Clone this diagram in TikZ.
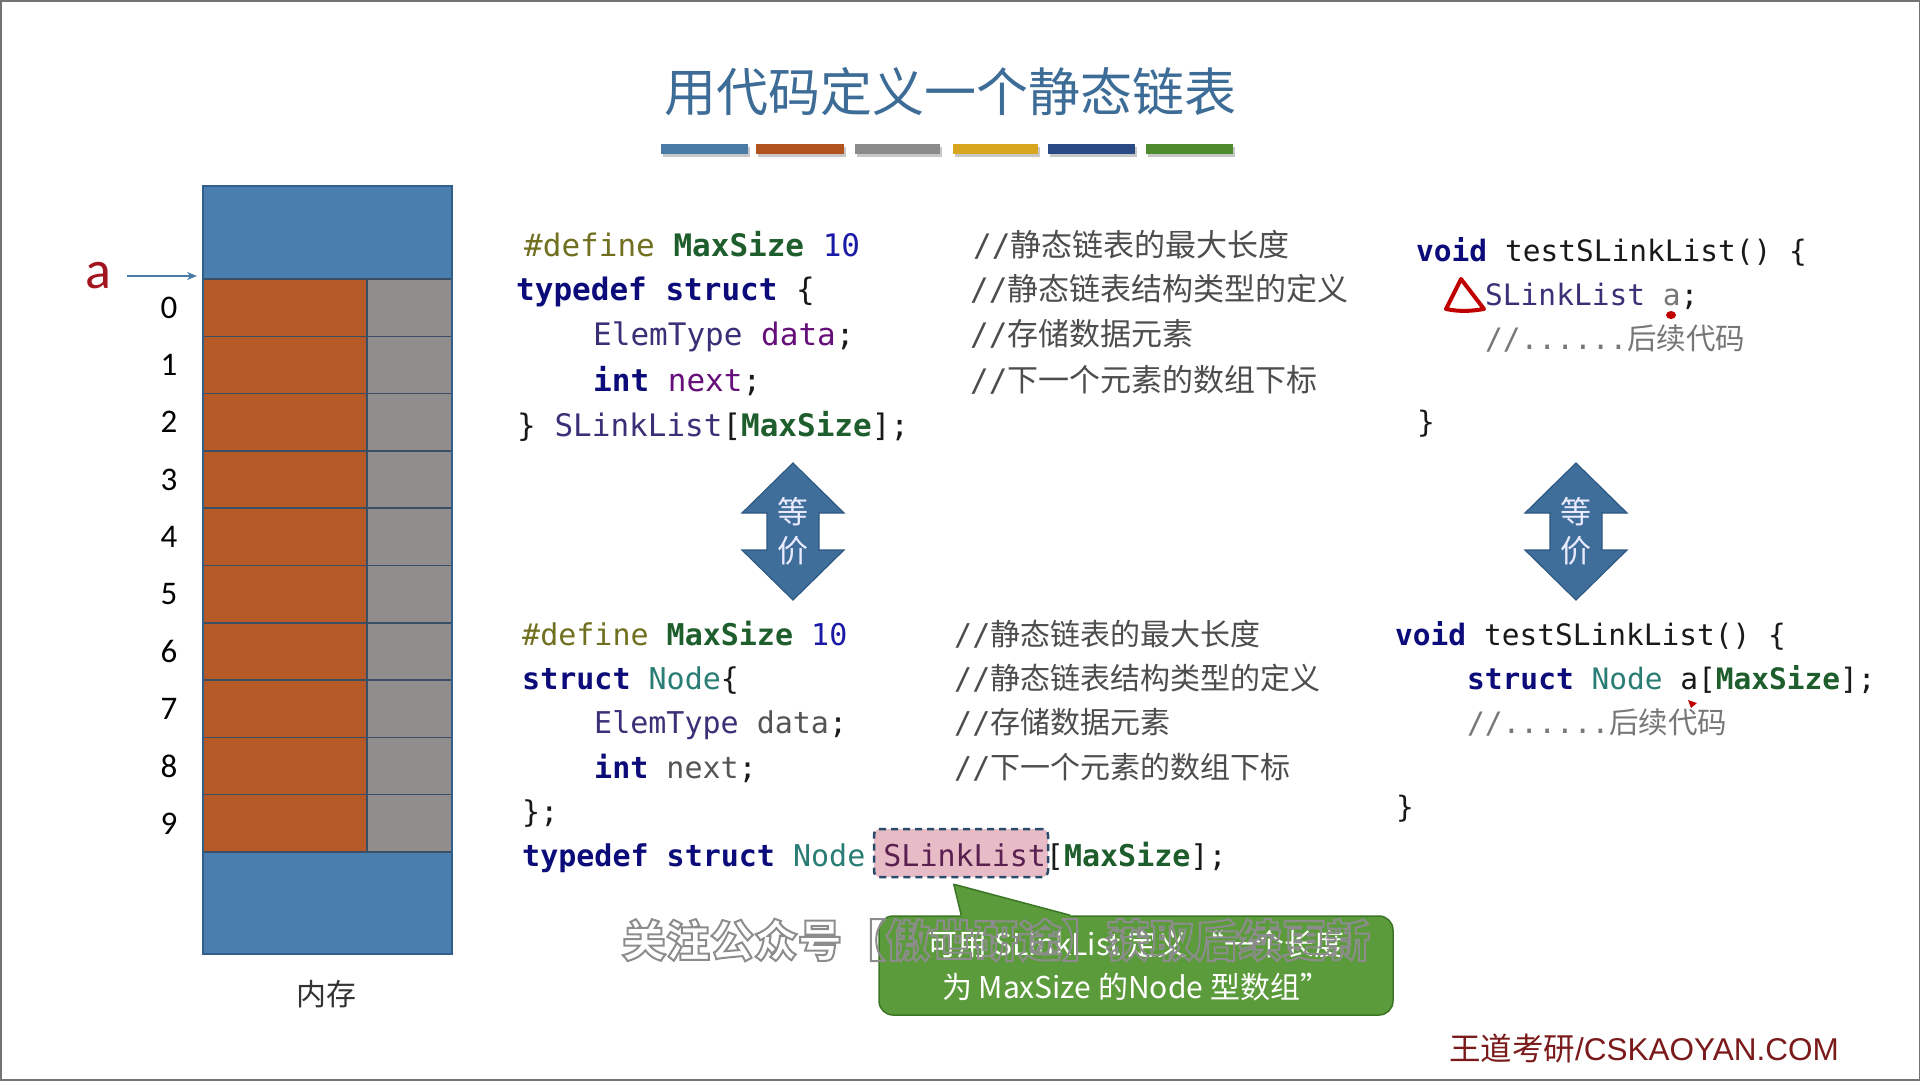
\documentclass[tikz,border=0pt]{standalone}
\usepackage{fontspec}
\usetikzlibrary{calc,arrows.meta}
\newfontfamily\cjk{Noto Sans CJK SC}
\newfontfamily\mono{DejaVu Sans Mono}
\newfontfamily\calfont{Carlito}
\newfontfamily\arl{Liberation Sans}

% palette
\definecolor{ctitle}{HTML}{3D6C97}
\definecolor{barA}{HTML}{4A7AA6}
\definecolor{barB}{HTML}{B0531F}
\definecolor{barC}{HTML}{8A8A8A}
\definecolor{barD}{HTML}{D7A51E}
\definecolor{barE}{HTML}{2A4A86}
\definecolor{barF}{HTML}{4E8B2F}
\definecolor{memblue}{HTML}{4A7EAE}
\definecolor{memedge}{HTML}{2F5F8A}
\definecolor{memorange}{HTML}{B55A26}
\definecolor{memgray}{HTML}{918D8D}
\definecolor{memgrid}{HTML}{3A4F66}
\definecolor{ared}{HTML}{A3151E}
\definecolor{ptr}{HTML}{4A7AA6}
\definecolor{arrfill}{HTML}{3F6E9B}
\definecolor{arrdraw}{HTML}{2E5A82}
\definecolor{ckw}{HTML}{0B0B7A}
\definecolor{cms}{HTML}{1E5E2C}
\definecolor{cnum}{HTML}{1A1AA6}
\definecolor{cdef}{HTML}{707020}
\definecolor{cty}{HTML}{3C2F78}
\definecolor{cfl}{HTML}{660E7A}
\definecolor{cnd}{HTML}{2A7D74}
\definecolor{cgr}{HTML}{555555}
\definecolor{ccm}{HTML}{4D4D4D}
\definecolor{clight}{HTML}{777777}
\definecolor{chl}{HTML}{5A2050}
\definecolor{hlfill}{HTML}{E8BCC6}
\definecolor{hledge}{HTML}{2B4B6B}
\definecolor{notefill}{HTML}{5C9B3C}
\definecolor{noteedge}{HTML}{3D7526}
\definecolor{penred}{HTML}{C00000}
\definecolor{cfoot}{HTML}{7B1A1A}

% code colouring
\newcommand\CKw[1]{{\bfseries\color{ckw}#1}}
\newcommand\CMs[1]{{\bfseries\color{cms}#1}}
\newcommand\CNum[1]{{\color{cnum}#1}}
\newcommand\CDef[1]{{\color{cdef}#1}}
\newcommand\CTy[1]{{\color{cty}#1}}
\newcommand\CFl[1]{{\color{cfl}#1}}
\newcommand\CNd[1]{{\color{cnd}#1}}
\newcommand\CCm[2]{{\mono //#1}{\cjk #2}}
\newcommand\hollowtext[1]{\special{pdf:literal direct 1 Tr 2 w}#1\special{pdf:literal direct 0 Tr}}

\tikzset{
  codeA/.style={anchor=base west, inner sep=0pt, text=black!90, font=\mono\fontsize{31}{36}\selectfont},
  codeB/.style={anchor=base west, inner sep=0pt, text=black!90, font=\mono\fontsize{30}{36}\selectfont},
  codeC/.style={anchor=base west, inner sep=0pt, text=black!90, font=\mono\fontsize{29.5}{36}\selectfont},
  cmtA/.style={anchor=base west, inner sep=0pt, text=ccm, font=\fontsize{31}{36}\selectfont},
  cmtB/.style={anchor=base west, inner sep=0pt, text=ccm, font=\fontsize{30}{36}\selectfont},
  cmtC/.style={anchor=base west, inner sep=0pt, text=clight, font=\fontsize{29.5}{36}\selectfont},
  idx/.style={inner sep=0pt, text=black, font=\calfont\fontsize{33}{36}\selectfont},
  eqtext/.style={inner sep=0pt, text=white!92!blue, font=\cjk\fontsize{31}{32}\selectfont},
  hlbox/.style={fill=hlfill, draw=hledge, line width=2.5pt, dash pattern=on 7pt off 5pt,
    rounded corners=6pt, minimum width=174pt, minimum height=48pt, inner sep=0pt},
  note/.style={fill=notefill, draw=noteedge, line width=1.5pt, rounded corners=14pt,
    minimum width=514pt, minimum height=99pt, align=center, text=white,
    font=\cjk\fontsize{30}{43}\selectfont},
  eqarrow/.pic={
    \filldraw[fill=arrfill, draw=arrdraw, line width=1.2pt]
      (0,-68.5) -- (51,-18.5) -- (26,-18.5) -- (26,18.5) -- (51,18.5) -- (0,68.5)
      -- (-51,18.5) -- (-26,18.5) -- (-26,-18.5) -- (-51,-18.5) -- cycle;
    \node[eqtext] (-up) at (0,-19.5) {等};
    \node[eqtext] (-dn) at (0,19.5) {价};
  }
}

\begin{document}
\begin{tikzpicture}[x=1pt, y=-1pt]
\useasboundingbox (0,0) rectangle (1920,1080);
\fill[white] (0,0) rectangle (1920,1080);
\draw[black!55, line width=3pt] (0,0) rectangle (1920,1080);

% heading and colour strip
\node[text=ctitle, font=\cjk\fontsize{52}{56}\selectfont] (title) at (950,92) {用代码定义一个静态链表};
\foreach \xa/\xb/\cc in {661/748/barA, 756/844/barB, 855/940/barC, 953/1038/barD, 1048/1135/barE, 1146/1233/barF}{
  \fill[black!22] (\xa+2,147) rectangle (\xb+2,157);
  \fill[\cc] (\xa,144) rectangle (\xb,154);
}

% memory column
\fill[memblue] (203,186) rectangle (452,279);
\fill[memblue] (203,852) rectangle (452,954);
\foreach \i in {0,...,9}{
  \fill[memorange] (203,{279+57.3*\i}) rectangle (367,{279+57.3*(\i+1)});
  \fill[memgray] (367,{279+57.3*\i}) rectangle (452,{279+57.3*(\i+1)});
  \draw[memgrid, line width=1.5pt] (203,{279+57.3*\i}) -- (452,{279+57.3*\i});
  \node[idx] (n\i) at (169,{279+57.3*(\i+0.5)}) {\i};
}
\draw[memgrid, line width=1.5pt] (203,852) -- (452,852);
\draw[memgrid, line width=1.5pt] (367,279) -- (367,852);
\draw[memedge, line width=2pt] (203,186) rectangle (452,954);
\node[font=\cjk\fontsize{30}{32}\selectfont, text=black!80] (mem) at (326,994) {内存};

% pointer a
\node[inner sep=0pt, text=ared, font=\calfont\fontsize{54}{56}\selectfont] (alabel) at (98,276) {a};
\coordinate (row0) at (197,276);
\draw[ptr, line width=1.6pt, -{Stealth[length=10pt,width=8pt]}, shorten <=16pt] (alabel.east) -- (row0);

% first definition
\node[codeA] (a1) at (524,256) {\CDef{\#define} \CMs{MaxSize} \CNum{10}};
\node[codeA] (a2) at (516,300) {\CKw{typedef} \CKw{struct} \{};
\node[codeA] (a3) at (593,345) {\CTy{ElemType} \CFl{data};};
\node[codeA] (a4) at (593,391) {\CKw{int} \CFl{next};};
\node[codeA] (a5) at (517,436) {\} \CTy{SLinkList}[\CMs{MaxSize}];};
\node[cmtA] (c1) at (973,256) {\CCm{}{静态链表的最大长度}};
\node[cmtA] (c2) at (970,300) {\CCm{}{静态链表结构类型的定义}};
\node[cmtA] (c3) at (970,345) {\CCm{}{存储数据元素}};
\node[cmtA] (c4) at (970,391) {\CCm{}{下一个元素的数组下标}};

% first usage
\node[codeC] (r1) at (1416,261) {\CKw{void} testSLinkList() \{};
\node[codeC] (r2) at (1485,305) {\CTy{SLinkList} {\color{clight}a};};
\node[cmtC] (r3) at (1485,349) {\CCm{......}{后续代码}};
\node[codeC] (r4) at (1417,432) {\}};

% pen marks
\draw[penred, line width=4pt, line join=round, line cap=round]
  (1461,279) -- (1446,309) .. controls (1460,312) and (1472,311) .. (1484,309) -- cycle;
\fill[penred] (1671,315) ellipse (5pt and 4pt);
\fill[penred] (1688,700) -- (1697,703) -- (1691,708) -- cycle;

% equivalence arrows
\pic (eqL) at (793,531.5) {eqarrow};
\pic (eqR) at (1576,531.5) {eqarrow};

% second definition
\node[hlbox] (hl) at (961,853) {};
\node[codeB] (b1) at (522,645) {\CDef{\#define} \CMs{MaxSize} \CNum{10}};
\node[codeB] (b2) at (522,689) {\CKw{struct} \CNd{Node}\{};
\node[codeB] (b3) at (594,733) {\CTy{ElemType} {\color{cgr}data};};
\node[codeB] (b4) at (594,778) {\CKw{int} {\color{cgr}next};};
\node[codeB] (b5) at (522,822) {\};};
\node[codeB] (b6) at (522,866) {\CKw{typedef} \CKw{struct} \CNd{Node} {\color{chl}SLinkList}[\CMs{MaxSize}];};
\node[cmtB] (d1) at (954,645) {\CCm{}{静态链表的最大长度}};
\node[cmtB] (d2) at (954,689) {\CCm{}{静态链表结构类型的定义}};
\node[cmtB] (d3) at (954,733) {\CCm{}{存储数据元素}};
\node[cmtB] (d4) at (954,778) {\CCm{}{下一个元素的数组下标}};

% second usage
\node[codeC] (s1) at (1395,645) {\CKw{void} testSLinkList() \{};
\node[codeC] (s2) at (1467,689) {\CKw{struct} \CNd{Node} a[\CMs{MaxSize}];};
\node[cmtC] (s3) at (1467,733) {\CCm{......}{后续代码}};
\node[codeC] (s4) at (1396,817) {\}};

% callout
\node[note] (note) at (1136,965.5) {可用 SLinkList 定义 “一个长度\\为 MaxSize 的Node 型数组”};
\coordinate (tip) at ($(hl.south west)+(81,6)$);
\coordinate (nb1) at ($(note.north west)+(83,0)$);
\coordinate (nb2) at ($(note.north west)+(192,0)$);
\fill[notefill] (tip) -- (nb1) -- ($(nb1)+(0,4)$) -- ($(nb2)+(0,4)$) -- (nb2) -- cycle;
\draw[noteedge, line width=1.5pt, line join=round] (nb1) -- (tip) -- (nb2);

% caption overlay
\node[inner sep=0pt, text=black!45, font=\cjk\bfseries\fontsize{44}{46}\selectfont] (wm) at (996,940) {\hollowtext{关注公众号【傲世研途】获取后续更新}};

% footer
\node[inner sep=0pt, text=cfoot, font=\fontsize{31.5}{34}\selectfont] (foot) at (1644,1049) {{\cjk 王道考研}{\arl /CSKAOYAN.COM}};
\end{tikzpicture}
\end{document}
